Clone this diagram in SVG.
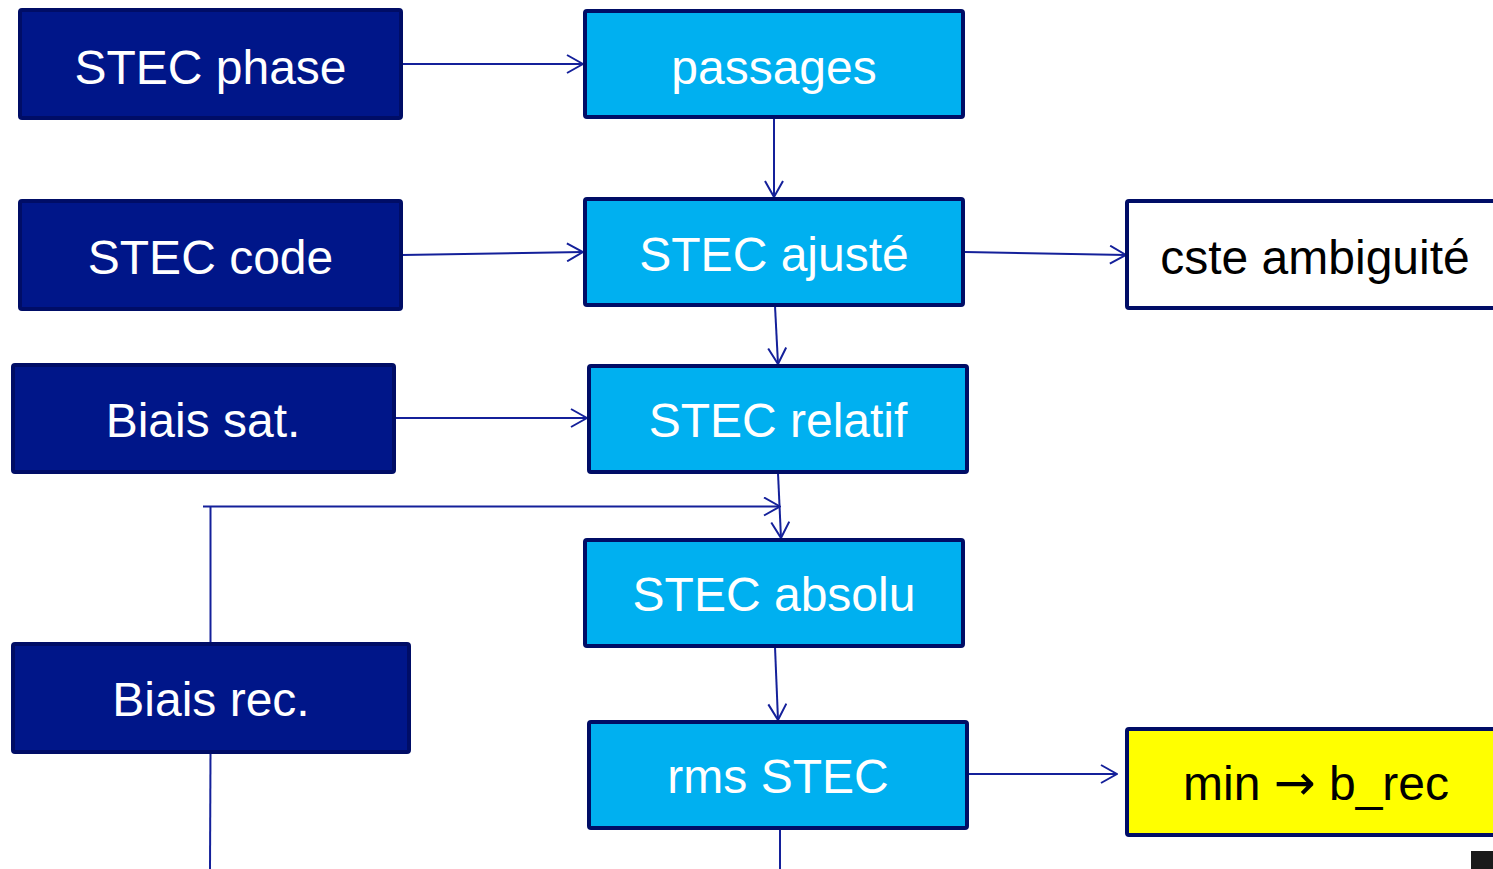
<svg xmlns="http://www.w3.org/2000/svg" width="1493" height="869" viewBox="0 0 1493 869">
<style>
.box{stroke:#000D66;stroke-width:4;}
.dark{fill:#001689;}
.light{fill:#00B0F0;}
.white{fill:#FFFFFF;}
.yellow{fill:#FFFF00;}
.t{font-family:"Liberation Sans",Arial,sans-serif;font-size:48px;text-anchor:middle;}
.tw{fill:#FFFFFF;}
.tb{fill:#000000;}
.ar{font-family:"DejaVu Sans",sans-serif;font-size:50px;}
.c{stroke:#14209A;stroke-width:2;fill:none;}
</style>
<defs>
<marker id="arr" viewBox="0 0 18 20" refX="17" refY="10" markerWidth="18" markerHeight="20" markerUnits="userSpaceOnUse" orient="auto">
<path d="M1,1 L17,10 L1,19" fill="none" stroke="#14209A" stroke-width="2"/>
</marker>
</defs>
<rect width="1493" height="869" fill="#FFFFFF"/>
<g id="connectors">
<line class="c" x1="402" y1="64" x2="583" y2="64" marker-end="url(#arr)"/>
<line class="c" x1="774" y1="119" x2="774" y2="197" marker-end="url(#arr)"/>
<line class="c" x1="402" y1="255" x2="583" y2="252" marker-end="url(#arr)"/>
<line class="c" x1="965" y1="252" x2="1126" y2="255" marker-end="url(#arr)"/>
<line class="c" x1="775" y1="306" x2="778" y2="364" marker-end="url(#arr)"/>
<line class="c" x1="395" y1="418" x2="587" y2="418" marker-end="url(#arr)"/>
<line class="c" x1="778" y1="473" x2="781" y2="538" marker-end="url(#arr)"/>
<line class="c" x1="203" y1="506.5" x2="780" y2="506.5" marker-end="url(#arr)"/>
<line class="c" x1="210.5" y1="506.5" x2="210.5" y2="643"/>
<line class="c" x1="775" y1="647" x2="778" y2="720" marker-end="url(#arr)"/>
<line class="c" x1="969" y1="774" x2="1117" y2="774" marker-end="url(#arr)"/>
<line class="c" x1="210.5" y1="753" x2="210" y2="869"/>
<line class="c" x1="780" y1="829" x2="780" y2="869"/>
</g>
<g id="stec-phase"><rect class="box dark" x="20" y="10" width="381" height="108" rx="2"/><text class="t tw" x="210.5" y="84">STEC phase</text></g>
<g id="passages"><rect class="box light" x="585" y="11" width="378" height="106" rx="2"/><text class="t tw" x="774" y="84">passages</text></g>
<g id="stec-code"><rect class="box dark" x="20" y="201" width="381" height="108" rx="2"/><text class="t tw" x="210.5" y="274">STEC code</text></g>
<g id="stec-ajuste"><rect class="box light" x="585" y="199" width="378" height="106" rx="2"/><text class="t tw" x="774" y="271">STEC ajusté</text></g>
<g id="cste-ambiguite"><rect class="box white" x="1127" y="201" width="380" height="107" rx="2"/><text class="t tb" x="1315" y="274">cste ambiguité</text></g>
<g id="biais-sat"><rect class="box dark" x="13" y="365" width="381" height="107" rx="2"/><text class="t tw" x="203" y="437">Biais sat.</text></g>
<g id="stec-relatif"><rect class="box light" x="589" y="366" width="378" height="106" rx="2"/><text class="t tw" x="778" y="437">STEC relatif</text></g>
<g id="stec-absolu"><rect class="box light" x="585" y="540" width="378" height="106" rx="2"/><text class="t tw" x="774" y="611">STEC absolu</text></g>
<g id="biais-rec"><rect class="box dark" x="13" y="644" width="396" height="108" rx="2"/><text class="t tw" x="211" y="716">Biais rec.</text></g>
<g id="rms-stec"><rect class="box light" x="589" y="722" width="378" height="106" rx="2"/><text class="t tw" x="778" y="793">rms STEC</text></g>
<g id="min-brec"><rect class="box yellow" x="1127" y="729" width="380" height="106" rx="2"/><text class="t tb" x="1316" y="800">min <tspan class="ar">→</tspan> b_rec</text></g>
<rect x="1471" y="851" width="22" height="18" fill="#1A1A1A"/>
</svg>
